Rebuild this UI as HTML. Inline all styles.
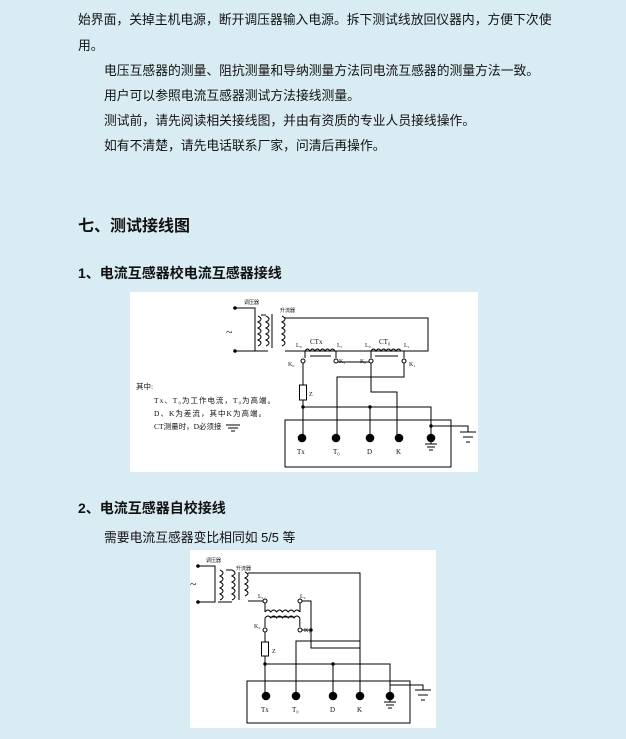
<!DOCTYPE html>
<html><head><meta charset="utf-8"><style>
body{margin:0;width:626px;height:739px;background:#d9ecf4;font-family:"Liberation Sans","Noto Sans CJK SC",sans-serif;color:#111;position:relative;overflow:hidden}
.t{position:absolute;font-size:12.8px;white-space:nowrap}
.h{position:absolute;font-weight:bold;white-space:nowrap}
svg{position:absolute;background:#fff}
svg text{font-family:"Liberation Serif","Noto Sans CJK SC",serif;fill:#111}
</style></head><body>
<div class="t" style="left:78px;top:9px">始界面，关掉主机电源，断开调压器输入电源。拆下测试线放回仪器内，方便下次使</div>
<div class="t" style="left:78px;top:35px">用。</div>
<div class="t" style="left:104px;top:60px">电压互感器的测量、阻抗测量和导纳测量方法同电流互感器的测量方法一致。</div>
<div class="t" style="left:104px;top:85px">用户可以参照电流互感器测试方法接线测量。</div>
<div class="t" style="left:104px;top:110px">测试前，请先阅读相关接线图，并由有资质的专业人员接线操作。</div>
<div class="t" style="left:104px;top:135px">如有不清楚，请先电话联系厂家，问清后再操作。</div>
<div class="h" style="left:78px;top:212px;font-size:16px">七、测试接线图</div>
<div class="h" style="left:78px;top:263px;font-size:14px">1、电流互感器校电流互感器接线</div>
<div class="h" style="left:78px;top:498px;font-size:14px">2、电流互感器自校接线</div>
<div class="t" style="left:104px;top:527px">需要电流互感器变比相同如 5/5 等</div>

<svg style="left:130px;top:292px" width="348" height="180" viewBox="0 0 348 180" stroke="#000" fill="none" stroke-width="1">
<text x="114" y="12" font-size="5" stroke="none">调压器</text>
<text x="150" y="20" font-size="5" stroke="none">升流器</text>
<path d="M105 16H125V24 M105 59H125V51"/><circle cx="105" cy="16" r="1.3" fill="#000"/><circle cx="105" cy="59" r="1.3" fill="#000"/>
<path d="M125 22V56 M142 22V56"/>
<path d="M128 24q6 3 0 6q6 3 0 6q6 3 0 6q6 3 0 6q6 3 0 6 M136 24q6 3 0 6q6 3 0 6q6 3 0 6q6 3 0 6q6 3 0 6 M152 24q6 3 0 6q6 3 0 6q6 3 0 6q6 3 0 6q6 3 0 6"/>
<path d="M131 23H136 M125 59H138"/>
<text x="96" y="44" font-size="12" stroke="none">~</text>
<path d="M155 26H298V59H155"/>
<path d="M175 59q2.5-4 5 0q2.5-4 5 0q2.5-4 5 0q2.5-4 5 0q2.5-4 5 0q2.5-4 5 0 M241 59q2.5-4 5 0q2.5-4 5 0q2.5-4 5 0q2.5-4 5 0q2.5-4 5 0q2.5-4 5 0"/>
<path d="M180 64H201 M245 64H268"/>
<text x="180" y="52" font-size="7" stroke="none">CTx</text><text x="249" y="52" font-size="7" stroke="none">CT₀</text>
<text x="166" y="55" font-size="6" stroke="none">L₀</text><text x="207" y="55" font-size="6" stroke="none">L₁</text>
<text x="235" y="55" font-size="6" stroke="none">L₀</text><text x="274" y="55" font-size="6" stroke="none">L₁</text>
<text x="158" y="74" font-size="6" stroke="none">K₀</text><text x="209" y="71" font-size="6" stroke="none">K₁</text>
<text x="230" y="71" font-size="6" stroke="none">K₀</text><text x="279" y="74" font-size="6" stroke="none">K₁</text>
<path d="M175 59V66 M206 59V66 M241 59V66 M274 59V66"/>
<circle cx="173" cy="69" r="2"/><circle cx="206" cy="69" r="2"/><circle cx="241" cy="69" r="2"/><circle cx="274" cy="69" r="2"/>
<path d="M208 70H239 M173 71V93 M173 108V143 M274 71V85H207V143 M241 71V100H267V143 M173 115H301V143 M240 115V143 M301 134H338V140"/>
<rect x="169.5" y="93" width="7" height="15"/><text x="179" y="104" font-size="6" stroke="none">Z</text>
<circle cx="173" cy="115" r="1.2" fill="#000"/><circle cx="240" cy="115" r="1.2" fill="#000"/><circle cx="301" cy="134" r="1.2" fill="#000"/>
<rect x="155" y="128" width="166" height="47"/>
<g fill="#000"><circle cx="172" cy="146" r="3.8"/><circle cx="206" cy="146" r="3.8"/><circle cx="240" cy="146" r="3.8"/><circle cx="269" cy="146" r="3.8"/><circle cx="301" cy="146" r="3.8"/></g>
<path d="M301 150V152 M295 152H307 M297 155H305 M299 158H303 M330 140H346 M333 145H343 M336 150H340"/>
<text x="167" y="162" font-size="7" stroke="none">Tx</text><text x="203" y="162" font-size="7" stroke="none">T₀</text><text x="237" y="162" font-size="7" stroke="none">D</text><text x="266" y="162" font-size="7" stroke="none">K</text>
<g stroke="none" font-size="7.5"><text x="6" y="97">其中:</text><text x="24" y="111" textLength="121">Tx、T₀为工作电流，T₀为高端。</text><text x="24" y="124" textLength="112">D、K为差流，其中K为高端。</text><text x="24" y="137">CT测量时，D必须接</text></g>
<path d="M96 133H110 M98 136H108 M101 139H105"/>
</svg>

<svg style="left:190px;top:550px" width="246" height="178" viewBox="0 0 246 178" stroke="#000" fill="none" stroke-width="1">
<text x="16" y="12" font-size="5" stroke="none">调压器</text><text x="46" y="20" font-size="5" stroke="none">升流器</text>
<path d="M8 16H25V20 M8 52H25V48"/><circle cx="8" cy="16" r="1.3" fill="#000"/><circle cx="8" cy="52" r="1.3" fill="#000"/>
<path d="M25 19V50 M49 22V50"/>
<path d="M30 20q6 3 0 6q6 3 0 6q6 3 0 6q6 3 0 6q6 3 0 6 M42 20q6 3 0 6q6 3 0 6q6 3 0 6q6 3 0 6q6 3 0 6 M55 22q6 3 0 6q6 3 0 6q6 3 0 6q6 3 0 6"/>
<path d="M36 20H42 M28 52H42"/>
<text x="0" y="38" font-size="12" stroke="none">~</text>
<path d="M58 23H170V143 M58 51H73"/>
<circle cx="75" cy="51" r="2"/><circle cx="110" cy="51" r="2"/>
<text x="68" y="48" font-size="6" stroke="none">L₁</text><text x="110" y="48" font-size="6" stroke="none">L₂</text>
<path d="M75 53V62 M110 53V62 M75 62q3-4 5.8 0q3-4 5.8 0q3-4 5.8 0q3-4 5.8 0q3-4 5.8 0q3-4 5.8 0 M80 67H105 M75 77V68q3-4 5.8 0q3-4 5.8 0q3-4 5.8 0q3-4 5.8 0q3-4 5.8 0q3-4 5.8 0V77"/>
<circle cx="75" cy="80" r="2"/><circle cx="110" cy="80" r="2"/>
<text x="64" y="78" font-size="6" stroke="none">K₂</text><text x="114" y="82" font-size="6" stroke="none">K₁</text>
<path d="M112 51H121V98H170 M112 80H121 M106 143V91H170 M75 82V92 M75 106V143 M75 114H200V143 M143 114V143"/>
<circle cx="121" cy="80" r="1.2" fill="#000"/><circle cx="75" cy="114" r="1.2" fill="#000"/><circle cx="143" cy="114" r="1.2" fill="#000"/>
<rect x="71.5" y="92" width="7" height="14"/><text x="82" y="103" font-size="6" stroke="none">Z</text>
<rect x="57" y="131" width="163" height="42"/>
<path d="M200 135H233V140 M225 140H241 M228 145H238 M231 150H235 M200 150V152 M194 152H206 M196 155H204 M198 158H202"/>
<g fill="#000"><circle cx="76" cy="146" r="3.8"/><circle cx="106" cy="146" r="3.8"/><circle cx="143" cy="146" r="3.8"/><circle cx="170" cy="146" r="3.8"/><circle cx="200" cy="146" r="3.8"/></g>
<text x="71" y="162" font-size="7" stroke="none">Tx</text><text x="102" y="162" font-size="7" stroke="none">T₀</text><text x="140" y="162" font-size="7" stroke="none">D</text><text x="167" y="162" font-size="7" stroke="none">K</text>
</svg>
</body></html>
